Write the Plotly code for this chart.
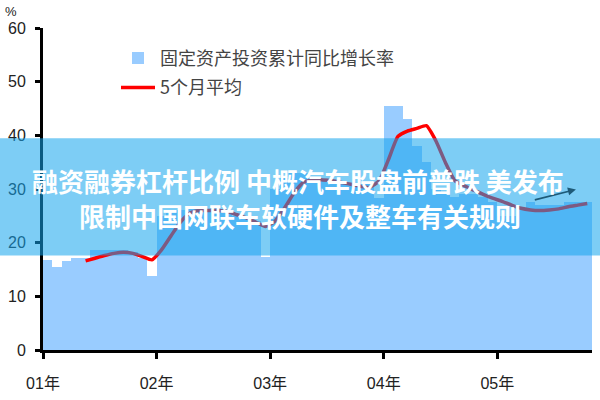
import plotly.graph_objects as go

# ---------------- data ----------------
start_year = 2001
n_months = 58
month_labels = [f"{start_year + i // 12}-{i % 12 + 1:02d}" for i in range(n_months)]
year_ticks = ["01年", "02年", "03年", "04年", "05年"]

fai_growth = [
    16.8, 15.4, 16.5, 17.1, 17.1, 18.7, 18.7, 18.7, 18.7, 18.3, 17.2, 13.8,   # 2001
    25.0, 25.5, 26.0, 26.5, 26.5, 26.0, 26.0, 25.5, 25.0, 24.5, 24.0, 17.4,   # 2002
    30.0, 32.0, 33.0, 33.0, 32.0, 31.5, 31.5, 31.0, 31.0, 31.0, 31.0, 28.4,   # 2003
    45.5, 45.5, 43.0, 38.0, 35.0, 30.0, 29.0, 28.5, 29.0, 29.0, 28.5, 27.5,   # 2004
    25.0, 25.0, 26.5, 27.5, 27.0, 27.0, 27.0, 27.5, 27.5, 27.5,               # 2005
]
ma5_start = 4
ma5 = [
    16.6, 17.1, 17.6, 18.0, 18.2, 18.0, 17.4, 16.8,
    18.6, 21.2, 23.8, 25.5, 26.0, 26.0, 26.0, 25.8, 25.2, 24.6, 23.8, 23.0,
    24.0, 26.4, 29.2, 31.2, 31.7, 31.7, 31.6, 31.2, 30.9, 30.5, 30.3, 31.5,
    35.5, 39.8, 40.8, 41.3, 41.8, 39.0, 35.0, 31.6, 30.6, 29.8, 29.0, 28.3,
    27.7, 27.0, 26.4, 26.1, 26.0, 26.1, 26.3, 26.7, 27.0, 27.3,
]
y_ticks = [0, 10, 20, 30, 40, 50, 60]
bar_name = "固定资产投资累计同比增长率"
line_name = "5个月平均"
headline = ["融资融券杠杆比例 中概汽车股盘前普跌 美发布", "限制中国网联车软硬件及整车有关规则"]

# ---------------- figure ----------------
x_idx = list(range(n_months))
jan_idx = [i for i, m in enumerate(month_labels) if m.endswith("-01")]

fig = go.Figure()
fig.add_trace(go.Bar(
    x=x_idx, y=fai_growth, name=bar_name, width=1.0,
    marker=dict(color="#99CCFF", line=dict(width=0)),
    customdata=month_labels, legendgroup="a",
))
fig.add_trace(go.Scatter(
    x=x_idx[ma5_start:ma5_start + len(ma5)], y=ma5, name=line_name,
    mode="lines", line=dict(color="#FF0000", width=3.5, shape="spline", smoothing=0.5),
    legendgroup="b",
))

W, H = 600, 400
L, R, T, B = 43, 8, 28, 45
pw, ph = W - L - R, H - T - B

def px(xp):
    return (xp - L) / pw

def py(yp):
    return (H - B - yp) / ph

tick_font = dict(family="Liberation Sans, Noto Sans CJK SC", size=16, color="#222222")

fig.update_layout(
    width=W, height=H,
    margin=dict(l=L, r=R, t=T, b=B),
    paper_bgcolor="white", plot_bgcolor="white",
    bargap=0,
    showlegend=True,
    legend=dict(
        x=px(116), y=py(40), xanchor="left", yanchor="top",
        font=dict(family="Noto Sans CJK SC", size=18, color="#444444"),
        bgcolor="rgba(0,0,0,0)", tracegroupgap=3, itemwidth=34,
        traceorder="grouped",
    ),
    xaxis=dict(
        range=[-0.5, n_months - 0.5],
        tickvals=[i - 0.5 for i in jan_idx], ticktext=year_ticks,
        ticks="outside", ticklen=6, tickwidth=3, tickcolor="black",
        showline=True, linecolor="black", linewidth=3,
        showgrid=False, zeroline=False, tickfont=tick_font,
        ticklabelstandoff=11,
    ),
    yaxis=dict(
        range=[0, 60], tickvals=y_ticks,
        ticks="outside", ticklen=5, tickwidth=3, tickcolor="black",
        showline=True, linecolor="black", linewidth=3,
        showgrid=False, zeroline=False, tickfont=tick_font,
        ticklabelstandoff=6,
    ),
    shapes=[dict(
        type="rect", xref="paper", yref="paper",
        x0=px(0), x1=px(W), y0=py(259), y1=py(140),
        fillcolor="rgba(19,164,237,0.55)", line=dict(width=0), layer="above",
    )],
    annotations=[
        dict(text="%", xref="paper", yref="paper", x=px(11), y=py(11),
             xanchor="center", yanchor="middle",
             showarrow=False, font=dict(family="Liberation Sans", size=13, color="#222222")),
        dict(x=55.8, y=29.9, ax=51.3, ay=27.9, xref="x", yref="y", axref="x", ayref="y",
             text="", showarrow=True, arrowhead=2, arrowsize=1, arrowwidth=1.6,
             arrowcolor="#1E5A78"),
        dict(text=headline[0], xref="paper", yref="paper", x=px(298), y=py(183),
             xanchor="center", yanchor="middle", showarrow=False,
             font=dict(family="Noto Sans CJK SC", size=26, color="white", weight="bold")),
        dict(text=headline[1], xref="paper", yref="paper", x=px(300), y=py(218),
             xanchor="center", yanchor="middle", showarrow=False,
             font=dict(family="Noto Sans CJK SC", size=26, color="white", weight="bold")),
    ],
)

fig.write_html("out.html", post_script="document.body.style.margin='0';",
               config={"displayModeBar": False})
